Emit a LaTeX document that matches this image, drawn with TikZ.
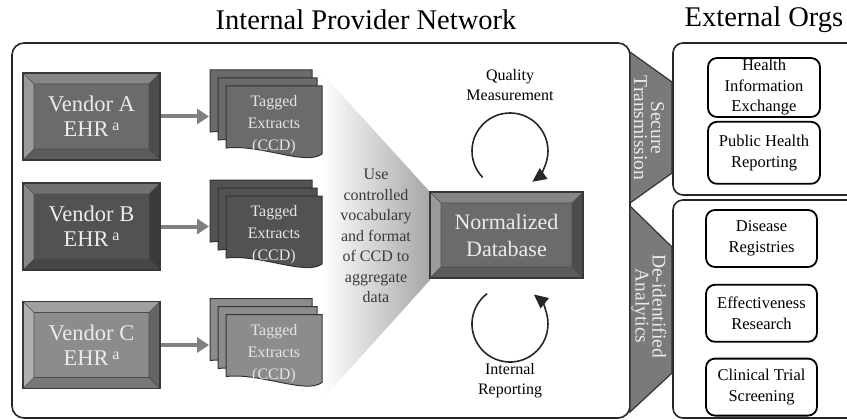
\documentclass[tikz,border=0pt]{standalone}
\usepackage{fontspec}
\setmainfont{Liberation Serif}
\usetikzlibrary{arrows.meta,positioning,calc}

\definecolor{vendA}{HTML}{6B6B6B}
\definecolor{vendB}{HTML}{525252}
\definecolor{vendC}{HTML}{8C8C8C}
\definecolor{bandgray}{HTML}{7A7A7A}
\definecolor{feedgray}{HTML}{808080}
\definecolor{inkgray}{HTML}{3A3A3A}

% raised footnote mark after EHR
\newcommand\ehrmark{\,\raisebox{6pt}{\fontsize{16}{16}\selectfont a}}

\tikzset{
  bevelbox/.style={draw=black!78, line width=1.3pt, fill=#1, text=white!92!black,
    minimum width=137pt, minimum height=87pt, inner sep=0pt, align=center,
    font=\fontsize{22.5}{25}\selectfont,
    path picture={
      \coordinate (bnw) at (path picture bounding box.north west);
      \coordinate (bne) at (path picture bounding box.north east);
      \coordinate (bsw) at (path picture bounding box.south west);
      \coordinate (bse) at (path picture bounding box.south east);
      \coordinate (inw) at ([shift={(11pt,-11pt)}]bnw);
      \coordinate (ine) at ([shift={(-11pt,-11pt)}]bne);
      \coordinate (isw) at ([shift={(11pt,11pt)}]bsw);
      \coordinate (ise) at ([shift={(-11pt,11pt)}]bse);
      \fill[white,opacity=.18] (bnw) -- (bne) -- (ine) -- (inw) -- cycle;
      \fill[white,opacity=.32] (bnw) -- (inw) -- (isw) -- (bsw) -- cycle;
      \fill[black,opacity=.28] (bne) -- (bse) -- (ise) -- (ine) -- cycle;
      \fill[black,opacity=.14] (bsw) -- (isw) -- (ise) -- (bse) -- cycle;
      \draw[black!70,line width=.6pt] (inw) rectangle (ise)
        (bnw) -- (inw) (bne) -- (ine) (bsw) -- (isw) (bse) -- (ise);
    }},
  sheet/.style={draw=black!80, line width=1pt},
  extract text/.style={align=center, text=white!90!black, font=\fontsize{16}{22}\selectfont},
  feed/.style={draw=feedgray, line width=4pt, -{Triangle[length=12pt,width=15pt]}},
  panel/.style={draw=black!85, line width=1.6pt},
  band/.style={fill=bandgray, draw=black!80, line width=1.2pt},
  band text/.style={rotate=-90, align=center, text=white!92!black, font=\fontsize{19.5}{17}\selectfont},
  org/.style={draw, fill=white, line width=1.8pt, rounded corners=9pt, minimum width=111pt,
    minimum height=57pt, inner sep=0pt, align=center, font=\fontsize{16.5}{21}\selectfont},
  cyclearc/.style={draw=black!85, line width=1.6pt, -{Triangle[length=14pt,width=13pt]}},
  note text/.style={align=center, font=\fontsize{16}{20}\selectfont},
  title/.style={font=\fontsize{28.5}{32}\selectfont}
}

\begin{document}
\begin{tikzpicture}[x=1pt,y=-1pt]
\useasboundingbox (0,0) rectangle (847,420);

% headings
\node at (366,20) [title] (tin) {Internal Provider Network};
\node at (764,20) [title] (tout) {External Orgs};

% frames
\draw[panel, rounded corners=12pt] (12,43) rectangle (630,418);
\draw[panel, rounded corners=10pt] (673,43) rectangle (860,195);
\draw[panel, rounded corners=10pt] (673,200) rectangle (860,418);

% funnel into the database
\shade[left color=white, right color=black!35] (322,73) -- (430,192) -- (430,280) -- (322,400) -- cycle;
\node at (376,236) [align=center, text=inkgray, font=\fontsize{16}{20.5}\selectfont] (use)
  {Use\\controlled\\vocabulary\\and format\\of CCD to\\aggregate\\data};

% vendors and their extracts
\foreach \r/\yy/\col in {A/116.5/vendA, B/226.5/vendB, C/345/vendC}{
  \node at (91.5,\yy) [bevelbox=\col] (v\r) {Vendor \r\\EHR\ehrmark};
  \foreach \k in {0,1,2}{
    \pgfmathsetmacro\px{210+8*\k}
    \pgfmathsetmacro\py{\yy-46.5+8*\k}
    \pgfmathsetmacro\pw{102-3*\k}
    \filldraw[sheet, fill=\col] (\px,\py) -- ({\px+\pw},\py) -- ({\px+\pw},{\py+68})
      .. controls ({\px+0.83*\pw},{\py+80}) and ({\px+0.36*\pw},{\py+58}) .. (\px,{\py+62}) -- cycle;
  }
  \node at (274,{\yy+8.5}) [extract text] (x\r) {Tagged\\Extracts\\(CCD)};
  \coordinate (in\r) at (209,\yy);
  \draw[feed] (v\r) -- (in\r);
}

% database and its two cycles
\node at (506.5,235) [bevelbox=vendA, minimum width=153pt, minimum height=86pt,
  font=\fontsize{22}{27}\selectfont] (db) {Normalized\\Database};
\coordinate (qc) at (510,151);
\draw[cyclearc] ([shift={(224:38pt)}]qc) arc[start angle=224, end angle=-54, radius=38pt];
\node at (510,85) [note text] (qm) {Quality\\Measurement};
\coordinate (rc) at (510,324);
\draw[cyclearc] ([shift={(127:38pt)}]rc) arc[start angle=127, end angle=411, radius=38pt];
\node at (510,381) [note text] (ir) {Internal\\Reporting};

% channels out
\filldraw[band] (630,52) -- (672,82) -- (672,173) -- (630,203) -- cycle;
\node at (649,128) [band text] (sec) {Secure\\Transmission};
\filldraw[band] (630,206) -- (672,247) -- (672,373) -- (630,412) -- cycle;
\node at (649,306) [band text] (deid) {De-identified\\Analytics};

% external organisations
\node at (764,87.5) [org, minimum width=112pt, minimum height=59pt,
  font=\fontsize{16.5}{20.5}\selectfont] (hie) {Health\\Information\\Exchange};
\node [org, minimum width=112pt, minimum height=62pt, below=3pt of hie] (phr) {Public Health\\Reporting};
\node at (761.5,238.5) [org] (dr) {Disease\\Registries};
\node [org, below=16pt of dr] (er) {Effectiveness\\Research};
\node [org, below=15pt of er] (cts) {Clinical Trial\\Screening};
\end{tikzpicture}
\end{document}
